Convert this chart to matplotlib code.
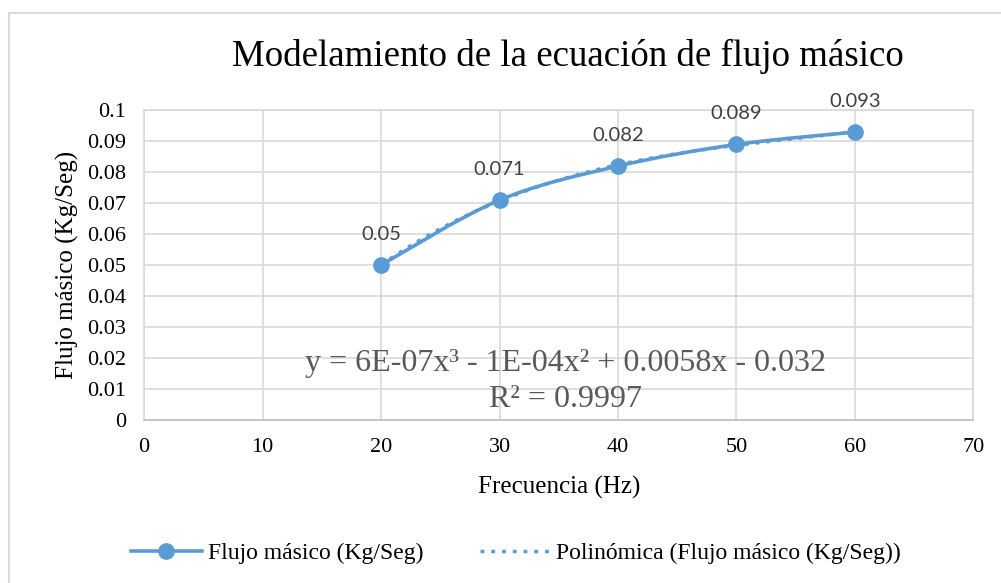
import numpy as np
import matplotlib
matplotlib.use('Agg')
import matplotlib.pyplot as plt
from matplotlib.path import Path
from matplotlib.patches import PathPatch, Rectangle
from matplotlib.lines import Line2D
from matplotlib.ticker import MultipleLocator, FuncFormatter

frecuencia = [20, 30, 40, 50, 60]
flujo = [0.05, 0.071, 0.082, 0.089, 0.093]
etiquetas = ['0.05', '0.071', '0.082', '0.089', '0.093']
ecuacion = 'y = 6E-07x³ - 1E-04x² + 0.0058x - 0.032'
r2 = 'R² = 0.9997'

azul = '#5B9BD5'
rejilla = '#D9D9D9'
serif = 'Liberation Serif'

fig = plt.figure(figsize=(10.01, 5.83), dpi=100)
ax = fig.add_axes([0.1439, 0.2801, 0.8286, 0.5305])

# chart border (like the Excel chart area)
fig.patches.append(Rectangle((9 / 1001, -0.5), 2.0, 0.5 + 1 - 13 / 583,
                             transform=fig.transFigure, fill=False,
                             edgecolor=rejilla, lw=1.5))

# polynomial trendline (order 3), drawn under the series
coef = np.polyfit(frecuencia, flujo, 3)
xs = np.linspace(frecuencia[0], frecuencia[-1], 200)
punteado = (0, (1.1, 2.0))
ax.plot(xs, np.polyval(coef, xs), color=azul, lw=2.5, ls=punteado, zorder=2)

# smoothed series line (bezier through the points)
pts = np.column_stack([frecuencia, flujo]).astype(float)
ext = np.vstack([pts[0], pts, pts[-1]])
verts = [tuple(pts[0])]
codes = [Path.MOVETO]
for i in range(len(pts) - 1):
    p0, p1, p2, p3 = ext[i], ext[i + 1], ext[i + 2], ext[i + 3]
    c1 = p1 + (p2 - p0) / 6
    c2 = p2 - (p3 - p1) / 6
    verts += [tuple(c1), tuple(c2), tuple(p2)]
    codes += [Path.CURVE4] * 3
ax.add_patch(PathPatch(Path(verts, codes), fill=False, edgecolor=azul,
                       lw=2.6, zorder=3, capstyle='round'))
ax.plot(frecuencia, flujo, 'o', color=azul, markersize=11, zorder=4)

for xv, yv, t in zip(frecuencia, flujo, etiquetas):
    ax.annotate(t, (xv, yv), xytext=(0, 22), textcoords='offset points',
                ha='center', va='center', fontsize=14.5, color='#404040',
                family='Lato')

ax.text(0.508, 0.181, ecuacion, transform=ax.transAxes, ha='center', va='center',
        fontsize=23, color='#595959', family=serif)
ax.text(0.508, 0.065, r2, transform=ax.transAxes, ha='center', va='center',
        fontsize=23, color='#595959', family=serif)

ax.set_xlim(0, 70)
ax.set_ylim(0, 0.1)
ax.xaxis.set_major_locator(MultipleLocator(10))
ax.yaxis.set_major_locator(MultipleLocator(0.01))
ax.yaxis.set_major_formatter(FuncFormatter(lambda v, p: '%g' % round(v, 3)))
ax.grid(True, color=rejilla, lw=1.2)
ax.set_axisbelow(True)
for s in ax.spines.values():
    s.set_color(rejilla)
    s.set_linewidth(1.2)
ax.spines['bottom'].set_color('#BFBFBF')
ax.tick_params(length=0, labelsize=16, pad=13)
for lab in ax.get_xticklabels() + ax.get_yticklabels():
    lab.set_family(serif)

ax.set_xlabel('Frecuencia (Hz)', fontsize=18, family=serif, labelpad=14)
ax.set_ylabel('Flujo másico (Kg/Seg)', fontsize=18, family=serif, labelpad=6)

fig.text(568 / 1001, 1 - 56 / 583, 'Modelamiento de la ecuación de flujo másico',
         ha='center', va='center', fontsize=26.6, family=serif)

handles = [Line2D([], [], color=azul, lw=2.6, marker='o', markersize=11),
           Line2D([], [], color=azul, lw=2.5, ls=punteado)]
fig.legend(handles, ['Flujo másico (Kg/Seg)', 'Polinómica (Flujo másico (Kg/Seg))'],
           loc='center', bbox_to_anchor=(516 / 1001, 1 - 553 / 583), ncol=2,
           frameon=False, prop={'family': serif, 'size': 17},
           handlelength=3.0, handletextpad=0.25, columnspacing=2.4)

plt.savefig('out.png', dpi=100)
plt.close()
